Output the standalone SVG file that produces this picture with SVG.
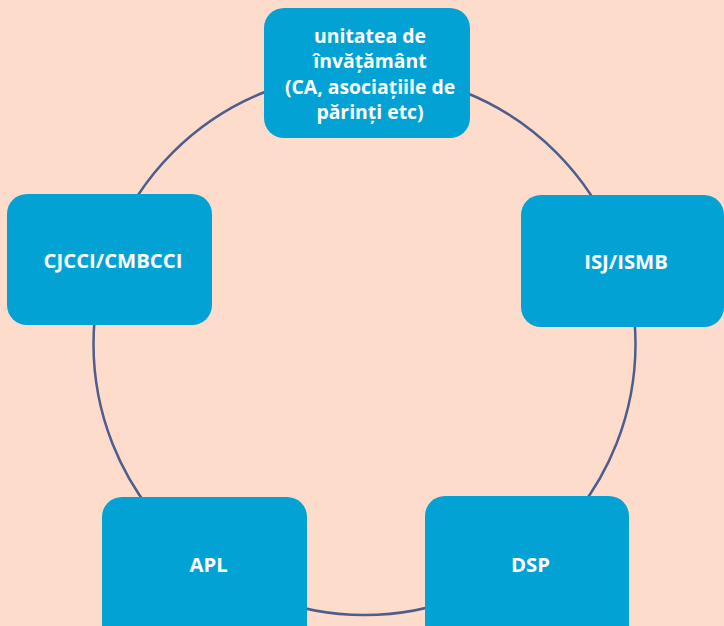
<svg xmlns="http://www.w3.org/2000/svg" width="724" height="626" viewBox="0 0 724 626">
<style>
.bg{fill:#FDDCCB}
.ring{fill:none;stroke:#4E5D8C;stroke-width:2.5}
.box{fill:#02A3D4}
.t{font-family:"Open Sans","Liberation Sans",sans-serif;font-weight:bold;font-size:20.3px;fill:#FFFFFF;text-anchor:middle}
.tm{font-size:19.4px}
</style>
<rect class="bg" x="0" y="0" width="724" height="626"/>
<g id="connectors">
<circle class="ring" cx="364.5" cy="344" r="271"/>
</g>
<g id="node-unitatea">
<rect class="box" x="264" y="8" width="206" height="130" rx="20"/>
<text class="t tm" x="370" y="43">unitatea de</text>
<text class="t tm" x="370" y="68">învățământ</text>
<text class="t tm" x="370" y="94">(CA, asociațiile de</text>
<text class="t tm" x="370" y="119">părinți etc)</text>
</g>
<g id="node-isj">
<rect class="box" x="521" y="195" width="203" height="132" rx="20"/>
<text class="t" x="626" y="269">ISJ/ISMB</text>
</g>
<g id="node-cjcci">
<rect class="box" x="7" y="194" width="205" height="131" rx="20"/>
<text class="t" x="113" y="268">CJCCI/CMBCCI</text>
</g>
<g id="node-apl">
<rect class="box" x="102" y="497" width="205" height="150" rx="20"/>
<text class="t" x="208.5" y="572">APL</text>
</g>
<g id="node-dsp">
<rect class="box" x="425" y="496" width="204" height="150" rx="20"/>
<text class="t" x="530.5" y="572">DSP</text>
</g>
</svg>
